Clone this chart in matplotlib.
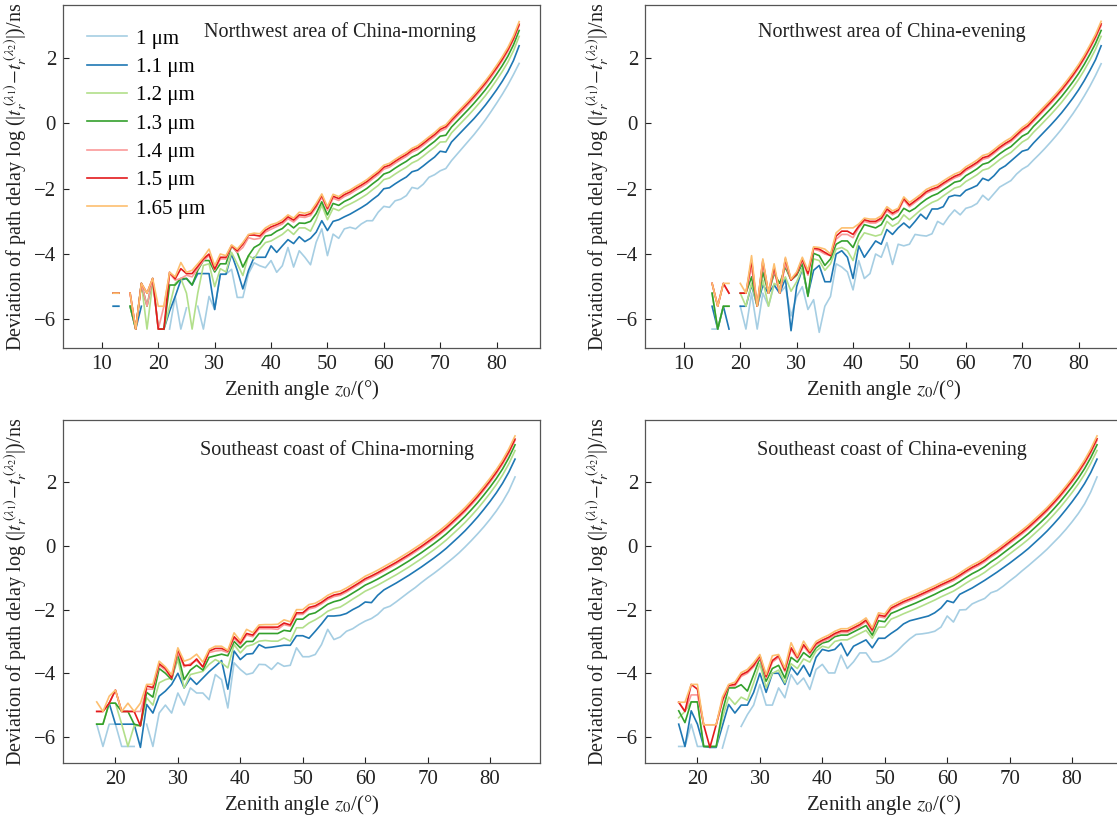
import numpy as np
import matplotlib.pyplot as plt

plt.rcParams['font.family'] = ['Liberation Serif', 'DejaVu Serif']
plt.rcParams['mathtext.fontset'] = 'stix'

nan = np.nan

wavelengths = ['1 μm', '1.1 μm', '1.2 μm', '1.3 μm', '1.4 μm', '1.5 μm', '1.65 μm']
colors = ['#a6cee3', '#1f78b4', '#b2df8a', '#33a02c', '#fb9a99', '#e31a1c', '#fdbf6f']

# ---- Northwest area, morning (zenith 12..84) ----
nwm_z = list(range(12, 85))
nwm_100 = [-5.6, -5.6, nan, nan, nan, nan, nan, nan, nan, nan,
           -6.3, -5.3, -6.3, -5.65, nan, -5.6, -6.3, -5.3, -5.7, -4.62,
           -4.62, -4.47, -5.33, -5.33, -4.6, -4.27, -4.36, -4.42, -4.2, -4.56,
           -4.36, -3.8, -4.4, -3.9, -4.1, -4.33, -3.64, -3.23, -4.05, -3.39,
           -3.52, -3.23, -3.18, -3.23, -3.08, -2.98, -2.98, -2.72, -2.54, -2.57,
           -2.37, -2.32, -2.21, -1.96, -2.0, -1.86, -1.65, -1.57, -1.45, -1.38,
           -1.14, -0.94, -0.74, -0.54, -0.34, -0.12, 0.11, 0.36, 0.62, 0.89,
           1.18, 1.5, 1.84]
nwm_110 = [-5.6, -5.6, nan, -5.6, -6.3, -5.6, nan, nan, nan, -6.3,
           -5.75, -5.3, -4.8, -4.75, -4.95, -4.6, -4.6, -4.6, -5.7, -4.62,
           -4.62, -4.0, -4.5, -5.07, -4.5, -4.1, -4.1, -4.1, -3.75, -3.95,
           -3.75, -3.56, -3.68, -3.47, -3.62, -3.52, -3.33, -2.98, -3.28, -3.0,
           -2.95, -2.86, -2.78, -2.68, -2.58, -2.47, -2.33, -2.2, -2.0, -1.97,
           -1.85, -1.74, -1.64, -1.48, -1.43, -1.3, -1.16, -1.03, -0.85, -0.88,
           -0.57, -0.39, -0.21, -0.03, 0.15, 0.35, 0.56, 0.79, 1.03, 1.29,
           1.58, 1.93, 2.38]
nwm_120 = [-5.2, -5.2, nan, -5.6, -6.3, -4.9, -6.3, -4.9, nan, -6.3,
           -5.6, -4.9, -4.75, -5.2, -6.3, -5.2, -4.35, -4.3, -5.0, -4.45,
           -4.55, -3.95, -4.3, -4.66, -4.05, -4.15, -3.85, -3.65, -3.6, -3.5,
           -3.4, -3.25, -3.4, -3.2, -3.2, -3.3, -2.95, -2.5, -2.95, -2.6,
           -2.67, -2.55, -2.47, -2.38, -2.28, -2.17, -2.03, -1.9, -1.72, -1.67,
           -1.55, -1.44, -1.34, -1.21, -1.13, -1.0, -0.86, -0.73, -0.57, -0.56,
           -0.29, -0.11, 0.07, 0.25, 0.44, 0.64, 0.85, 1.08, 1.33, 1.59,
           1.88, 2.23, 2.67]
nwm_130 = [-5.2, -5.2, nan, -5.6, -6.3, -4.9, -5.6, -4.75, -6.3, -6.3,
           -4.95, -4.95, -4.75, -4.75, -4.95, -4.5, -4.2, -4.2, -4.55, -4.3,
           -4.3, -3.75, -3.95, -4.4, -4.05, -3.8, -3.7, -3.45, -3.42, -3.3,
           -3.22, -3.06, -3.2, -3.05, -3.06, -3.0, -2.76, -2.4, -2.8, -2.45,
           -2.51, -2.39, -2.31, -2.2, -2.1, -1.99, -1.85, -1.72, -1.55, -1.49,
           -1.37, -1.26, -1.16, -1.03, -0.95, -0.82, -0.68, -0.55, -0.39, -0.36,
           -0.11, 0.07, 0.25, 0.43, 0.62, 0.82, 1.03, 1.26, 1.51, 1.77,
           2.06, 2.41, 2.85]
nwm_140 = [-5.2, -5.2, nan, -5.2, -6.3, -4.9, -5.6, -4.75, -6.3, -5.6,
           -4.6, -4.8, -4.75, -4.65, -4.7, -4.45, -4.2, -4.05, -4.5, -4.15,
           -4.15, -3.75, -3.95, -3.8, -3.5, -3.55, -3.52, -3.33, -3.24, -3.16,
           -3.08, -2.92, -3.02, -2.86, -2.88, -2.82, -2.58, -2.26, -2.66, -2.29,
           -2.36, -2.24, -2.16, -2.05, -1.95, -1.84, -1.7, -1.57, -1.4, -1.34,
           -1.22, -1.11, -1.01, -0.88, -0.8, -0.67, -0.53, -0.4, -0.24, -0.16,
           0.04, 0.22, 0.4, 0.58, 0.77, 0.97, 1.18, 1.41, 1.66, 1.92,
           2.21, 2.56, 3.0]
nwm_150 = [-5.2, -5.2, nan, -5.2, -6.3, -4.9, -5.2, -4.75, -6.3, -6.3,
           -4.56, -4.76, -4.45, -4.6, -4.6, -4.38, -4.15, -4.0, -4.46, -4.1,
           -4.1, -3.75, -3.9, -3.7, -3.42, -3.42, -3.45, -3.27, -3.17, -3.1,
           -3.02, -2.86, -2.96, -2.8, -2.82, -2.76, -2.52, -2.2, -2.6, -2.23,
           -2.3, -2.18, -2.1, -1.99, -1.89, -1.78, -1.64, -1.51, -1.34, -1.28,
           -1.16, -1.05, -0.95, -0.82, -0.74, -0.61, -0.47, -0.34, -0.18, -0.1,
           0.1, 0.28, 0.46, 0.64, 0.83, 1.03, 1.24, 1.47, 1.71, 1.97,
           2.26, 2.6, 3.04]
nwm_165 = [-5.2, -5.2, nan, -5.2, -6.3, -4.9, -5.2, -4.75, -5.6, -5.6,
           -4.56, -4.7, -4.26, -4.56, -4.5, -4.3, -4.1, -3.85, -4.36, -4.0,
           -4.05, -3.72, -3.85, -3.65, -3.4, -3.36, -3.38, -3.2, -3.1, -3.05,
           -2.95, -2.8, -2.9, -2.72, -2.75, -2.7, -2.45, -2.16, -2.55, -2.17,
           -2.24, -2.12, -2.04, -1.93, -1.83, -1.72, -1.58, -1.45, -1.28, -1.22,
           -1.1, -0.99, -0.89, -0.76, -0.68, -0.55, -0.41, -0.28, -0.12, -0.04,
           0.16, 0.34, 0.52, 0.7, 0.89, 1.09, 1.3, 1.53, 1.78, 2.04,
           2.33, 2.68, 3.12]

# ---- Northwest area, evening (zenith 15..84) ----
nwe_z = list(range(15, 85))
nwe_100 = [-6.3, -6.3, nan, nan, nan, -5.6, -6.3, -5.2, -6.3, -5.2,
           -5.6, -4.95, -5.2, -5.0, -5.9, -5.3, -5.0, -5.7, -5.4, -6.4,
           -5.6, -5.3, -4.3, -4.4, -4.55, -5.1, -4.2, -4.75, -4.6, -4.0,
           -4.1, -3.65, -4.32, -3.7, -3.75, -3.7, -3.4, -3.43, -3.45, -3.38,
           -3.0, -3.1, -2.85, -2.65, -2.8, -2.6, -2.55, -2.45, -2.2, -2.35,
           -2.15, -1.95, -1.85, -1.75, -1.55, -1.4, -1.3, -1.12, -0.95, -0.77,
           -0.58, -0.38, -0.17, 0.06, 0.3, 0.56, 0.84, 1.14, 1.47, 1.83]
nwe_110 = [-5.6, -6.3, -5.6, -6.3, nan, -5.6, -5.6, -4.95, -5.6, -4.95,
           -5.2, -4.95, -5.2, -4.75, -6.35, -5.0, -4.45, -5.25, -4.5, -4.35,
           -4.85, -4.85, -4.0, -3.9, -4.1, -4.75, -3.75, -4.1, -3.85, -3.6,
           -3.7, -3.25, -3.4, -3.2, -3.05, -3.2, -3.0, -2.78, -2.93, -2.62,
           -2.62, -2.55, -2.25, -2.2, -2.22, -2.05, -1.98, -1.9, -1.68, -1.75,
           -1.6, -1.4, -1.3, -1.15, -1.0, -0.85, -0.8, -0.6, -0.42, -0.24,
           -0.06, 0.13, 0.33, 0.55, 0.78, 1.03, 1.31, 1.62, 1.95, 2.38]
nwe_120 = [-5.2, -6.3, -5.6, -5.6, nan, -5.2, -5.6, -4.9, -5.6, -4.8,
           -5.6, -4.9, -5.0, -4.7, -5.14, -4.85, -4.45, -5.25, -4.15, -4.2,
           -4.5, -4.3, -3.85, -3.8, -3.9, -4.2, -3.6, -3.35, -3.4, -3.45,
           -3.4, -3.0, -3.15, -3.05, -2.8, -2.95, -2.8, -2.65, -2.53, -2.42,
           -2.35, -2.22, -2.1, -1.98, -1.93, -1.78, -1.68, -1.57, -1.43, -1.38,
           -1.25, -1.11, -0.99, -0.89, -0.73, -0.57, -0.47, -0.27, -0.1, 0.08,
           0.26, 0.45, 0.65, 0.87, 1.1, 1.35, 1.63, 1.94, 2.27, 2.67]
nwe_130 = [-5.2, -6.3, -5.6, -5.6, nan, -5.2, -5.2, -4.7, -5.6, -4.55,
           -5.2, -4.6, -4.9, -4.4, -4.8, -4.65, -4.3, -5.3, -3.98, -4.05,
           -4.35, -4.15, -3.7, -3.6, -3.6, -3.8, -3.4, -3.1, -3.15, -3.2,
           -3.1, -2.8, -2.95, -2.85, -2.6, -2.7, -2.6, -2.45, -2.32, -2.22,
           -2.15, -2.03, -1.92, -1.8, -1.76, -1.6, -1.5, -1.39, -1.25, -1.2,
           -1.07, -0.93, -0.81, -0.71, -0.55, -0.39, -0.3, -0.09, 0.08, 0.26,
           0.44, 0.63, 0.83, 1.05, 1.28, 1.53, 1.81, 2.12, 2.45, 2.85]
nwe_140 = [-4.9, -5.6, -4.9, -5.2, nan, -5.2, -5.2, -4.4, -5.6, -4.3,
           -5.2, -4.5, -5.2, -4.3, -4.8, -4.6, -4.2, -4.65, -3.85, -3.9,
           -4.0, -4.05, -3.55, -3.4, -3.4, -3.5, -3.2, -3.0, -3.05, -3.05,
           -2.95, -2.68, -2.8, -2.7, -2.35, -2.55, -2.42, -2.29, -2.14, -2.06,
           -2.0, -1.88, -1.77, -1.67, -1.6, -1.45, -1.35, -1.24, -1.1, -1.05,
           -0.92, -0.78, -0.66, -0.56, -0.4, -0.24, -0.12, 0.06, 0.24, 0.42,
           0.6, 0.79, 0.99, 1.21, 1.44, 1.69, 1.97, 2.28, 2.61, 3.0]
nwe_150 = [-4.9, -5.6, -4.9, -5.2, nan, -5.2, -5.2, -4.2, -5.6, -4.2,
           -5.2, -4.4, -5.2, -4.15, -4.8, -4.6, -4.15, -4.6, -3.82, -3.85,
           -3.95, -4.05, -3.45, -3.3, -3.3, -3.4, -3.15, -2.95, -3.0, -3.0,
           -2.9, -2.62, -2.75, -2.65, -2.3, -2.5, -2.37, -2.24, -2.09, -2.01,
           -1.95, -1.83, -1.72, -1.62, -1.55, -1.4, -1.3, -1.19, -1.05, -1.0,
           -0.87, -0.73, -0.61, -0.51, -0.35, -0.19, -0.07, 0.11, 0.29, 0.47,
           0.65, 0.84, 1.04, 1.26, 1.49, 1.74, 2.02, 2.33, 2.66, 3.05]
nwe_165 = [-4.9, -5.6, -4.9, -4.9, nan, -4.9, -5.2, -4.05, -5.6, -4.15,
           -5.2, -4.3, -5.2, -4.1, -4.77, -4.55, -4.1, -4.5, -3.78, -3.8,
           -3.85, -4.0, -3.35, -3.2, -3.2, -3.2, -3.08, -2.9, -2.93, -2.93,
           -2.83, -2.55, -2.68, -2.6, -2.25, -2.42, -2.3, -2.17, -2.02, -1.94,
           -1.88, -1.76, -1.65, -1.55, -1.48, -1.33, -1.23, -1.12, -0.98, -0.93,
           -0.8, -0.66, -0.54, -0.44, -0.28, -0.12, 0.0, 0.18, 0.36, 0.54,
           0.72, 0.91, 1.11, 1.33, 1.56, 1.81, 2.09, 2.4, 2.73, 3.13]

# ---- Southeast coast, morning (zenith 17..84) ----
sem_z = list(range(17, 85))
sem_100 = [-5.6, -6.3, -5.6, -5.6, -6.3, -6.3, -6.3, nan, -5.6, -6.3,
           -5.25, -5.0, -5.25, -4.62, -5.0, -4.46, -4.62, -4.62, -4.83, -4.04,
           -4.2, -5.09, -3.67, -3.88, -4.04, -3.99, -3.72, -3.73, -3.88, -3.67,
           -3.78, -3.75, -3.2, -3.48, -3.48, -3.41, -3.1, -2.62, -2.94, -2.86,
           -2.68, -2.6, -2.47, -2.36, -2.28, -2.15, -1.96, -1.89, -1.75, -1.6,
           -1.45, -1.31, -1.15, -1.0, -0.86, -0.71, -0.55, -0.39, -0.22, -0.03,
           0.17, 0.38, 0.6, 0.84, 1.1, 1.39, 1.73, 2.17]
sem_110 = [nan, nan, -4.94, -5.6, -5.6, -5.6, -5.6, -6.33, -4.98, -5.25,
           -4.72, -4.56, -4.35, -4.0, -4.46, -4.15, -4.35, -4.15, -3.95, -3.78,
           -3.6, -4.5, -3.3, -3.57, -3.4, -3.38, -3.1, -3.2, -3.18, -3.15,
           -3.12, -3.12, -2.82, -2.82, -2.9, -2.68, -2.45, -2.2, -2.2, -2.18,
           -2.12, -2.0, -1.9, -1.76, -1.78, -1.55, -1.38, -1.27, -1.16, -1.04,
           -0.92, -0.79, -0.66, -0.52, -0.38, -0.23, -0.07, 0.11, 0.29, 0.48,
           0.69, 0.91, 1.15, 1.4, 1.67, 1.97, 2.32, 2.73]
sem_120 = [-5.6, -5.6, -4.94, -4.94, -5.6, -6.3, -5.65, -5.65, -4.77, -5.0,
           -4.3, -4.2, -4.15, -3.57, -4.46, -4.04, -3.99, -3.94, -3.72, -3.57,
           -3.67, -3.83, -3.1, -3.36, -3.15, -3.1, -2.99, -2.97, -2.99, -2.99,
           -2.89, -2.99, -2.57, -2.57, -2.42, -2.32, -2.2, -2.05, -1.97, -1.92,
           -1.8, -1.67, -1.55, -1.42, -1.33, -1.23, -1.12, -1.01, -0.9, -0.78,
           -0.66, -0.53, -0.4, -0.26, -0.12, 0.03, 0.19, 0.37, 0.55, 0.74,
           0.95, 1.17, 1.41, 1.66, 1.93, 2.23, 2.58, 3.0]
sem_130 = [-5.6, -5.6, -4.94, -4.94, -5.2, -5.2, -5.6, -5.65, -4.6, -4.75,
           -3.85, -4.0, -4.2, -3.4, -4.2, -3.9, -3.75, -3.9, -3.5, -3.45,
           -3.4, -3.45, -3.0, -3.2, -3.0, -3.0, -2.75, -2.75, -2.75, -2.75,
           -2.65, -2.68, -2.3, -2.3, -2.15, -2.1, -1.97, -1.83, -1.75, -1.7,
           -1.6, -1.48, -1.36, -1.23, -1.14, -1.04, -0.93, -0.82, -0.71, -0.59,
           -0.47, -0.34, -0.21, -0.07, 0.07, 0.22, 0.38, 0.56, 0.74, 0.93,
           1.14, 1.36, 1.6, 1.85, 2.12, 2.42, 2.77, 3.18]
sem_140 = [-5.2, -5.2, -4.94, -4.53, -5.2, -5.2, -5.2, -5.2, -4.5, -4.5,
           -3.75, -3.9, -4.15, -3.35, -3.8, -3.7, -3.6, -3.8, -3.35, -3.3,
           -3.28, -3.35, -2.9, -3.1, -2.8, -2.85, -2.6, -2.6, -2.6, -2.62,
           -2.47, -2.52, -2.15, -2.15, -1.98, -1.93, -1.82, -1.68, -1.59, -1.55,
           -1.45, -1.33, -1.21, -1.08, -0.99, -0.89, -0.78, -0.67, -0.56, -0.44,
           -0.32, -0.19, -0.06, 0.08, 0.22, 0.37, 0.53, 0.71, 0.89, 1.08,
           1.29, 1.51, 1.75, 2.0, 2.27, 2.57, 2.91, 3.32]
sem_150 = [-5.2, -5.2, -4.94, -4.53, -5.2, -5.2, -5.2, -5.65, -4.4, -4.45,
           -3.7, -3.85, -4.15, -3.25, -3.75, -3.75, -3.55, -3.8, -3.3, -3.22,
           -3.22, -3.3, -2.85, -3.05, -2.75, -2.8, -2.55, -2.55, -2.55, -2.55,
           -2.42, -2.48, -2.1, -2.1, -1.93, -1.88, -1.77, -1.63, -1.54, -1.5,
           -1.4, -1.28, -1.16, -1.03, -0.94, -0.84, -0.73, -0.62, -0.51, -0.39,
           -0.27, -0.14, -0.01, 0.13, 0.27, 0.42, 0.58, 0.76, 0.94, 1.13,
           1.34, 1.56, 1.8, 2.05, 2.32, 2.62, 2.96, 3.36]
sem_165 = [-4.9, -5.2, -4.72, -4.53, -5.2, -4.94, -5.2, -4.94, -4.35, -4.35,
           -3.62, -3.8, -4.05, -3.2, -3.62, -3.55, -3.4, -3.65, -3.25, -3.15,
           -3.15, -3.28, -2.73, -2.98, -2.62, -2.72, -2.48, -2.47, -2.47, -2.46,
           -2.32, -2.38, -2.0, -2.0, -1.84, -1.8, -1.69, -1.55, -1.46, -1.42,
           -1.32, -1.2, -1.08, -0.95, -0.86, -0.76, -0.65, -0.54, -0.43, -0.31,
           -0.19, -0.06, 0.07, 0.21, 0.35, 0.5, 0.66, 0.84, 1.02, 1.21,
           1.42, 1.64, 1.88, 2.13, 2.4, 2.7, 3.05, 3.46]

# ---- Southeast coast, evening (zenith 17..84) ----
see_z = list(range(17, 85))
see_100 = [-6.3, -6.3, -5.6, -6.3, -6.3, -6.3, nan, -6.35, -5.65, nan,
           -5.67, -5.3, -5.0, -4.35, -5.0, -5.0, -4.46, -4.77, -4.04, -4.35,
           -4.15, -4.51, -3.88, -3.72, -3.99, -3.99, -3.43, -3.85, -3.64, -3.36,
           -3.36, -3.64, -3.64, -3.57, -3.46, -3.3, -3.1, -2.92, -2.78, -2.76,
           -2.73, -2.68, -2.55, -2.2, -2.39, -2.01, -2.0, -1.82, -1.73, -1.65,
           -1.47, -1.4, -1.26, -1.1, -0.95, -0.78, -0.62, -0.45, -0.28, -0.1,
           0.1, 0.3, 0.52, 0.76, 1.02, 1.32, 1.7, 2.17]
see_110 = [-5.6, -6.3, -5.18, -5.6, -6.3, -6.33, -6.33, -5.65, -4.98, -5.25,
           -5.0, -5.0, -4.6, -4.0, -4.6, -4.0, -4.0, -4.35, -3.8, -4.05,
           -3.75, -4.1, -3.5, -3.25, -3.3, -3.25, -3.05, -3.45, -3.15, -3.05,
           -2.95, -3.2, -2.9, -2.9, -2.75, -2.62, -2.45, -2.35, -2.3, -2.25,
           -2.2, -2.1, -1.95, -1.72, -1.78, -1.52, -1.42, -1.32, -1.2, -1.08,
           -0.95, -0.82, -0.68, -0.54, -0.39, -0.24, -0.08, 0.1, 0.28, 0.47,
           0.68, 0.9, 1.14, 1.39, 1.66, 1.96, 2.31, 2.73]
see_120 = [-5.4, -5.2, -4.9, -4.9, -6.3, -6.3, -6.3, -5.4, -4.75, -4.98,
           -4.75, -4.85, -4.3, -3.7, -4.45, -4.0, -3.9, -4.3, -3.7, -3.85,
           -3.55, -3.65, -3.3, -3.15, -3.2, -3.0, -2.95, -2.95, -2.85, -2.75,
           -2.65, -2.9, -2.55, -2.55, -2.3, -2.22, -2.13, -2.05, -1.97, -1.88,
           -1.79, -1.7, -1.6, -1.51, -1.42, -1.3, -1.17, -1.05, -0.95, -0.83,
           -0.68, -0.55, -0.4, -0.25, -0.1, 0.05, 0.21, 0.39, 0.57, 0.76,
           0.97, 1.19, 1.43, 1.68, 1.95, 2.25, 2.6, 3.0]
see_130 = [-5.18, -5.55, -4.9, -4.9, -6.3, -6.3, -6.3, -5.2, -4.46, -4.46,
           -4.36, -4.56, -4.05, -3.52, -4.25, -3.85, -3.75, -4.15, -3.5, -3.65,
           -3.35, -3.5, -3.2, -3.05, -3.0, -2.85, -2.8, -2.8, -2.7, -2.6,
           -2.5, -2.8, -2.35, -2.38, -2.12, -2.04, -1.95, -1.87, -1.79, -1.7,
           -1.61, -1.52, -1.42, -1.33, -1.24, -1.12, -0.99, -0.87, -0.77, -0.65,
           -0.5, -0.37, -0.22, -0.07, 0.08, 0.23, 0.39, 0.57, 0.75, 0.94,
           1.15, 1.37, 1.61, 1.86, 2.13, 2.43, 2.78, 3.18]
see_140 = [-4.91, -5.2, -4.68, -4.68, -5.62, -5.62, -5.62, -4.9, -4.4, -4.4,
           -4.1, -4.0, -3.8, -3.5, -4.15, -3.65, -3.5, -3.95, -3.25, -3.55,
           -3.15, -3.4, -3.12, -3.01, -2.92, -2.8, -2.72, -2.72, -2.62, -2.52,
           -2.38, -2.69, -2.22, -2.26, -2.0, -1.9, -1.8, -1.72, -1.64, -1.55,
           -1.46, -1.37, -1.27, -1.18, -1.09, -0.97, -0.84, -0.72, -0.62, -0.5,
           -0.35, -0.22, -0.07, 0.08, 0.23, 0.38, 0.54, 0.72, 0.9, 1.09,
           1.3, 1.52, 1.76, 2.01, 2.28, 2.58, 2.92, 3.32]
see_150 = [-4.91, -5.2, -4.35, -4.5, -5.62, -6.33, -5.62, -4.85, -4.38, -4.35,
           -4.05, -3.95, -3.75, -3.45, -4.1, -3.6, -3.45, -3.9, -3.2, -3.5,
           -3.1, -3.35, -3.07, -2.96, -2.87, -2.75, -2.67, -2.67, -2.57, -2.47,
           -2.33, -2.64, -2.17, -2.21, -1.95, -1.85, -1.75, -1.67, -1.59, -1.5,
           -1.41, -1.32, -1.22, -1.13, -1.04, -0.92, -0.79, -0.67, -0.57, -0.45,
           -0.3, -0.17, -0.02, 0.13, 0.28, 0.43, 0.59, 0.77, 0.95, 1.14,
           1.35, 1.57, 1.81, 2.06, 2.33, 2.63, 2.97, 3.37]
see_165 = [-4.91, -4.91, -4.35, -4.35, -5.62, -5.62, -5.62, -4.75, -4.35, -4.28,
           -3.98, -3.88, -3.67, -3.41, -4.04, -3.45, -3.41, -3.83, -3.04, -3.46,
           -2.99, -3.3, -3.0, -2.89, -2.8, -2.68, -2.6, -2.6, -2.5, -2.4,
           -2.26, -2.57, -2.1, -2.14, -1.88, -1.78, -1.68, -1.6, -1.52, -1.43,
           -1.34, -1.25, -1.15, -1.06, -0.97, -0.85, -0.72, -0.6, -0.5, -0.38,
           -0.23, -0.1, 0.05, 0.2, 0.35, 0.5, 0.66, 0.84, 1.02, 1.21,
           1.42, 1.64, 1.88, 2.13, 2.4, 2.7, 3.05, 3.46]

panels = [
    (nwm_z, [nwm_100, nwm_110, nwm_120, nwm_130, nwm_140, nwm_150, nwm_165],
     'Northwest area of China-morning'),
    (nwe_z, [nwe_100, nwe_110, nwe_120, nwe_130, nwe_140, nwe_150, nwe_165],
     'Northwest area of China-evening'),
    (sem_z, [sem_100, sem_110, sem_120, sem_130, sem_140, sem_150, sem_165],
     'Southeast coast of China-morning'),
    (see_z, [see_100, see_110, see_120, see_130, see_140, see_150, see_165],
     'Southeast coast of China-evening'),
]

W, H = 1117, 818
fig = plt.figure(figsize=(W / 100, H / 100), dpi=100)

# left, top, right, bottom in pixels
boxes = [(63, 5, 540, 348), (645, 5, 1122, 348),
         (63, 420, 540, 763), (645, 420, 1122, 763)]
title_pos = [(0.58, 0.92), (0.518, 0.92), (0.575, 0.912), (0.518, 0.912)]
xlims = [(3.1, 87.7), (3.1, 87.7), (11.6, 88.0), (11.6, 88.0)]
ylims = [(-6.88, 3.63), (-6.88, 3.63), (-6.82, 3.96), (-6.82, 3.96)]
xticks = [range(10, 90, 10), range(10, 90, 10), range(20, 90, 10), range(20, 90, 10)]

ylabel = r'Deviation of path delay log (|$t_r^{\,(\lambda_1)}$$-$$t_r^{\,(\lambda_2)}$|)/ns'
xlabel = r'Zenith angle $z_0$/(°)'
fs = 15

for i, (z, series, name) in enumerate(panels):
    l, t, r, b = boxes[i]
    ax = fig.add_axes([l / W, 1 - b / H, (r - l) / W, (b - t) / H])
    for vals, lab, c in zip(series, wavelengths, colors):
        ax.plot(z, vals, color=c, lw=1.2, label=lab)
    ax.set_xlim(*xlims[i])
    ax.set_ylim(*ylims[i])
    ax.set_xticks(list(xticks[i]))
    ax.set_yticks([-6, -4, -2, 0, 2])
    ax.tick_params(direction='in', length=4, width=0.8, labelsize=fs,
                   pad=5, colors='#222222')
    for s in ax.spines.values():
        s.set_color('#555555')
        s.set_linewidth(0.9)
    ax.set_xlabel(xlabel, fontsize=fs, color='#222222', labelpad=3)
    ax.set_ylabel(ylabel, fontsize=14.5, color='#222222', labelpad=3)
    ax.text(title_pos[i][0], title_pos[i][1], name, transform=ax.transAxes,
            ha='center', va='center', fontsize=14.5, color='#222222')
    if i == 0:
        ax.legend(loc='upper left', frameon=False, fontsize=fs,
                  handlelength=1.9, handletextpad=0.45, labelspacing=0.42,
                  borderaxespad=0.75)

fig.savefig('out.png', dpi=100)
